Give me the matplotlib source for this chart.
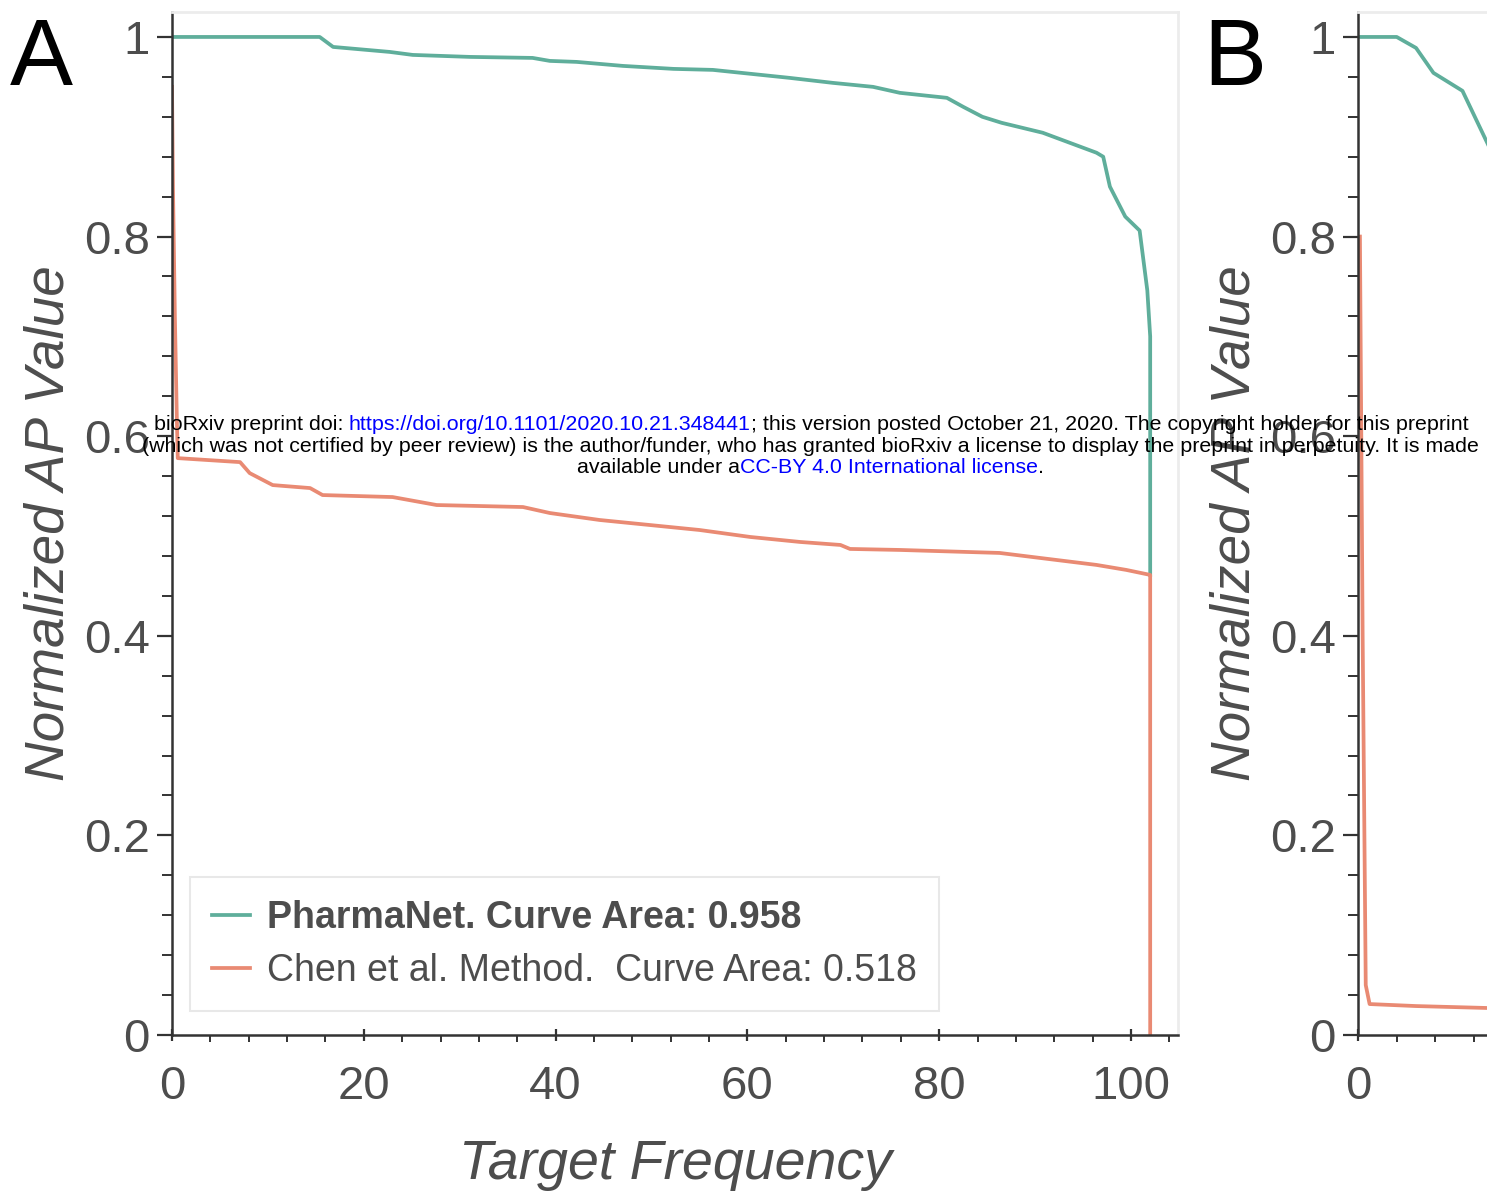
import numpy as np
import matplotlib
matplotlib.use("Agg")
import matplotlib.pyplot as plt
from matplotlib.ticker import MultipleLocator, FuncFormatter

plt.rcParams["font.family"] = ["Liberation Sans", "DejaVu Sans"]

W, H = 1487, 1194

# ── panel A: normalized AP value per target, sorted ─────────────────────
pharmanet_x = [0, 15.4, 16.8, 22.7, 25.1, 31.1, 37.6, 39.4, 42.2, 47.0, 52.3,
               56.4, 64.4, 68.9, 73.1, 75.9, 80.8, 82.5, 84.5, 86.5, 90.8,
               96.4, 97.1, 97.8, 99.4, 100.9, 101.7, 102.0, 102.0]
pharmanet_y = [1.0, 1.0, 0.990, 0.985, 0.982, 0.980, 0.979, 0.976, 0.975, 0.971, 0.968,
               0.967, 0.959, 0.954, 0.950, 0.944, 0.939, 0.930, 0.920, 0.914, 0.904,
               0.884, 0.880, 0.850, 0.820, 0.806, 0.746, 0.700, 0.461]

chen_x = [0, 0.1, 0.3, 0.5, 0.6, 7.1, 8.1, 10.5, 14.4, 15.7, 23.0, 27.6, 36.6,
          39.4, 44.6, 49.8, 55.0, 60.3, 65.5, 69.7, 70.7, 75.9, 86.3, 90.5,
          96.4, 99.5, 102.0, 102.0]
chen_y = [0.95, 0.85, 0.72, 0.62, 0.578, 0.574, 0.563, 0.551, 0.548, 0.541, 0.539,
          0.531, 0.529, 0.523, 0.516, 0.511, 0.506, 0.499, 0.494, 0.491, 0.487,
          0.486, 0.483, 0.478, 0.471, 0.466, 0.461, 0.0]

pharmanet_area_a = 0.958
chen_area_a = 0.518

# ── panel B (second benchmark) ──────────────────────────────────────────
pharmanet_b_x = [0, 1.0, 1.5, 1.95, 2.7, 3.4]
pharmanet_b_y = [1.0, 1.0, 0.989, 0.964, 0.946, 0.889]
chen_b_x = [0.05, 0.12, 0.2, 0.3, 1.5, 3.4]
chen_b_y = [0.80, 0.40, 0.05, 0.031, 0.029, 0.027]

y_ticks = [0, 0.2, 0.4, 0.6, 0.8, 1.0]

TEAL = "#5fae9b"
SALMON = "#e98a73"
TEXT = "#4d4d4d"
SPINE = "#333333"


def fmt_y(v, _):
    if abs(v) < 1e-9:
        return "0"
    if abs(v - 1) < 1e-9:
        return "1"
    return f"{v:.1f}"


def style_axes(ax, xminor):
    ax.set_ylim(0, 1.025)
    ax.set_yticks(y_ticks)
    ax.yaxis.set_major_formatter(FuncFormatter(fmt_y))
    ax.yaxis.set_minor_locator(MultipleLocator(0.04))
    ax.xaxis.set_minor_locator(MultipleLocator(xminor))
    for side in ("left", "bottom"):
        ax.spines[side].set_color(SPINE)
        ax.spines[side].set_linewidth(1.8)
    for side in ("top", "right"):
        ax.spines[side].set_color("#ececec")
        ax.spines[side].set_linewidth(2.0)
    ax.tick_params(axis="y", which="major", direction="out", length=11, width=1.6,
                   color=SPINE, labelsize=34, labelcolor=TEXT, pad=5)
    ax.tick_params(axis="y", which="minor", direction="out", length=7, width=1.4, color=SPINE)
    ax.tick_params(axis="x", which="major", direction="inout", length=9, width=1.6,
                   color=SPINE, labelsize=34, labelcolor=TEXT, pad=17)
    ax.tick_params(axis="x", which="minor", direction="out", length=5, width=1.4, color=SPINE)
    ax.tick_params(top=False, right=False, which="both")
    ax.set_ylabel("Normalized AP Value", fontsize=39.5, style="italic", color=TEXT, labelpad=6)


fig = plt.figure(figsize=(W / 100, H / 100), dpi=100)
fig.patch.set_facecolor("white")

left_a = 172 / W
bottom = (H - 1035) / H
height = (1035 - 12) / H
width = (1178 - 172) / W

ax = fig.add_axes([left_a, bottom, width, height])
ax.plot(pharmanet_x, pharmanet_y, color=TEAL, lw=2.7,
        label=f"PharmaNet. Curve Area: {pharmanet_area_a:.3f}")
ax.plot(chen_x, chen_y, color=SALMON, lw=2.7,
        label=f"Chen et al. Method.  Curve Area: {chen_area_a:.3f}")
ax.set_xlim(0, 104.9)
ax.set_xticks([0, 20, 40, 60, 80, 100])
style_axes(ax, 4)
ax.set_xlabel("Target Frequency", fontsize=40, style="italic", color=TEXT, labelpad=22)

leg = ax.legend(loc="lower left", bbox_to_anchor=(-0.001, 0.005), fontsize=27,
                frameon=True, fancybox=False, edgecolor="#e8e8e8", framealpha=1,
                handlelength=1.0, handletextpad=0.45, labelspacing=0.45,
                borderpad=0.6, labelcolor=TEXT)
leg.get_frame().set_linewidth(1.5)
leg.get_texts()[0].set_fontweight("bold")

axb = fig.add_axes([1358 / W, bottom, width, height])
axb.plot(pharmanet_b_x, pharmanet_b_y, color=TEAL, lw=2.7)
axb.plot(chen_b_x, chen_b_y, color=SALMON, lw=2.7)
axb.set_xlim(0, 26)
axb.set_xticks([0])
style_axes(axb, 1)

fig.text(10 / W, 1 - 85 / H, "A", fontsize=68, color="black", va="baseline", ha="left")
fig.text(1203 / W, 1 - 85 / H, "B", fontsize=68, color="black", va="baseline", ha="left")

# preprint notice, with the link parts in blue
renderer = fig.canvas.get_renderer()
NOTE_SIZE = 15.4


def text_width(s):
    t = fig.text(0, 0, s + "|", fontsize=NOTE_SIZE)
    bar = fig.text(0, 0, "|", fontsize=NOTE_SIZE)
    w = t.get_window_extent(renderer).width - bar.get_window_extent(renderer).width
    t.remove()
    bar.remove()
    return w


def note_line(pieces, y_px, cx_px):
    full = "".join(s for s, _ in pieces)
    x0 = cx_px - text_width(full) / 2
    prefix = ""
    for s, c in pieces:
        fig.text((x0 + text_width(prefix)) / W, 1 - y_px / H, s, fontsize=NOTE_SIZE,
                 color=c, va="center", ha="left")
        prefix += s


BLUE = "#0000ff"
note_line([("bioRxiv preprint doi: ", "black"),
           ("https://doi.org/10.1101/2020.10.21.348441", BLUE),
           ("; this version posted October 21, 2020. The copyright holder for this preprint", "black")],
          425, 811)
note_line([("(which was not certified by peer review) is the author/funder, who has granted bioRxiv "
            "a license to display the preprint in perpetuity. It is made", "black")], 446, 810)
note_line([("available under a", "black"), ("CC-BY 4.0 International license", BLUE),
           (".", "black")], 468, 810)

fig.savefig("out.png", dpi=100)
